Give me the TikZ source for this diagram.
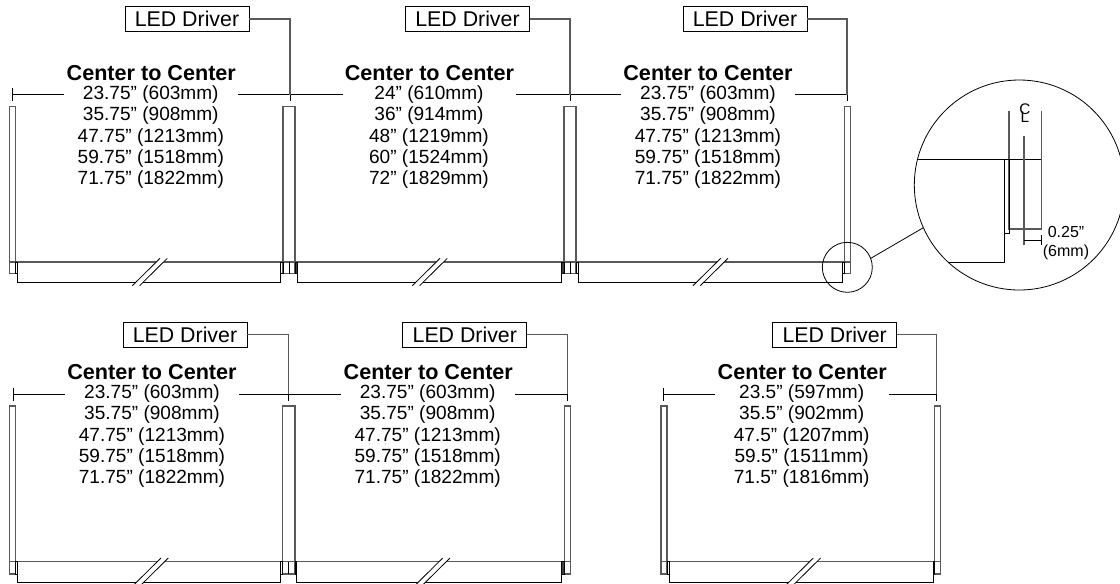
\documentclass[tikz,border=0pt]{standalone}
\usepackage{fontspec}
\setmainfont{Liberation Sans}
\newcommand{\dimsQuarter}{23.75” (603mm)\\35.75” (908mm)\\47.75” (1213mm)\\59.75” (1518mm)\\71.75” (1822mm)}
\newcommand{\dimsWhole}{24” (610mm)\\36” (914mm)\\48” (1219mm)\\60” (1524mm)\\72” (1829mm)}
\newcommand{\dimsHalf}{23.5” (597mm)\\35.5” (902mm)\\47.5” (1207mm)\\59.5” (1511mm)\\71.5” (1816mm)}
\begin{document}
\begin{tikzpicture}
[x=0.75pt,y=-0.75pt,%
  lineDecorate/.style={-,line width=0.6pt},%
  railDecorate/.style={-,line width=0.8pt,black!65},%
  driverDecorate/.style={shape=rectangle,draw,line width=0.6pt,minimum width=93pt,minimum height=18.4pt,inner sep=0pt,font=\fontsize{16}{18}\selectfont},%
  titleDecorate/.style={inner xsep=1.5pt,inner ysep=0pt,font=\fontsize{16.2}{18}\selectfont\bfseries},%
  dimDecorate/.style={align=center,inner sep=0pt,font=\fontsize{14.3}{15.9}\selectfont},%
  detailDecorate/.style={shape=circle,draw,line width=0.6pt,inner sep=0pt},%
  noteDecorate/.style={inner sep=0pt,font=\fontsize{12}{14}\selectfont}]
\path[use as bounding box,clip] (0,0) rectangle (1120,583);
%% posts
\foreach \xa/\xb/\ya/\yb in {
  9.5/15.5/106.7/273.5, 283/295/106.7/273.5, 564/576/106.7/273.5, 844.3/850.7/106.7/273.5,
  9.5/15.5/406/574, 282.7/295/406/574, 564.3/570.3/406/574, 661/667/406/574, 934.7/940.3/406/574}
{
  \draw[railDecorate] (\xa,\ya) rectangle (\xb,\yb);
}
%% bars
\foreach \xa/\xb/\y in {
  17.5/280.7/262, 297/561.7/262, 578.3/842.7/262,
  17.5/280.7/561.7, 296.7/561.7/561.7, 669.3/933/561.7}
{
  \draw[lineDecorate] (\xa,\y) -- (\xa,\y+20.5) -- (\xb,\y+20.5) -- (\xb,\y);
}
%% rail tops and end caps
\draw[railDecorate] (9.5,262) -- (850.7,262);
\draw[railDecorate] (9.5,561.7) -- (570.3,561.7);
\draw[railDecorate] (661,561.7) -- (940.3,561.7);
\foreach \xa/\xb/\ya/\yb in {
  15.5/17.5/262/273.5, 280.7/283/262/273.5, 842.7/844.3/262/273.5,
  15.5/17.5/561.7/574, 280.7/282.7/561.7/574, 667/669.3/561.7/574}
{
  \draw[lineDecorate] (\xa,\ya) rectangle (\xb,\yb);
}
\foreach \xa/\xb/\ya/\yb in {
  295/297/262/273.5, 561.7/564/262/273.5, 295/296.7/561.7/574, 561.7/564.3/561.7/574, 933/934.7/561.7/574}
{
  \draw[lineDecorate,fill=black!75] (\xa,\ya) rectangle (\xb,\yb);
}
\draw[lineDecorate] (576,262) rectangle (578.3,273.5);
\draw[lineDecorate] (289,262) -- (289,273.5) (570,262) -- (570,273.5) (288.5,561.7) -- (288.5,574);
%% breaks
\foreach \bx/\y in {
  132.3/262, 412.3/262, 693/262, 133.3/561.7, 415/561.7, 785.6/561.7}
{
  \fill[white] (\bx,\y+23.7) -- (\bx+27.7,\y-3.7) -- (\bx+35,\y-3.7) -- (\bx+7.3,\y+23.7) -- cycle;
  \draw[lineDecorate] (\bx,\y+23.7) -- (\bx+27.7,\y-3.7);
  \draw[lineDecorate] (\bx+7.3,\y+23.7) -- (\bx+35,\y-3.7);
}
%% driver boxes
\foreach \nodename/\x/\y in {
  driverA/187/19, driverB/467.5/19, driverC/745/19,
  driverD/185/334.7, driverE/464.8/334.7, driverF/834.7/334.7}
{
  \node (\nodename) at (\x,\y) [driverDecorate] {LED Driver};
}
%% titles
\foreach \nodename/\x/\y in {
  titleA/151.3/72.7, titleB/429.5/72.7, titleC/708/72.7,
  titleD/152/371.7, titleE/428.3/371.7, titleF/802.3/371.7}
{
  \node (\nodename) at (\x,\y) [titleDecorate] {Center to Center};
}
%% dimensions
\foreach \x/\y/\dimtext in {
  150.8/137.2/\dimsQuarter, 429/137.2/\dimsWhole, 708/137.2/\dimsQuarter,
  152/436.2/\dimsQuarter, 427.7/436.2/\dimsQuarter, 801.7/436.2/\dimsHalf}
{
  \node at (\x,\y) [dimDecorate] {\dimtext};
}
%% ticks
\foreach \nodename/\x/\y in {
  tickA/12.5/94.7, tickB/290/94.7, tickC/570/94.7, tickD/847/94.7,
  tickE/13/394, tickF/288.7/394, tickG/567.3/394, tickH/663.3/394, tickI/936.7/394}
{
  \coordinate (\nodename) at (\x,\y);
  \draw[lineDecorate] (\x,\y-6.5) -- (\x,\y+6.5);
}
%% dimension lines
\path
\foreach \startnode/\endnode/\side in {
  tickA/titleA/west, tickB/titleA/east, tickB/titleB/west, tickC/titleB/east, tickC/titleC/west, tickD/titleC/east,
  tickE/titleD/west, tickF/titleD/east, tickF/titleE/west, tickG/titleE/east, tickH/titleF/west, tickI/titleF/east}
{
  (\startnode) edge[lineDecorate] (\startnode -| \endnode.\side)
};
%% driver leads
\path
\foreach \startnode/\endnode in {
  driverA/tickB, driverB/tickC, driverC/tickD, driverD/tickF, driverE/tickG, driverF/tickI}
{
  (\startnode.east) edge[railDecorate,to path={-| (\tikztotarget)}] (\endnode)
};
%% detail view
\node (detailSmall) at (847.3,267.3) [detailDecorate,minimum size=37.5pt] {};
\node (detailBig) at (1019.3,185) [detailDecorate,minimum size=157.5pt] {};
\draw[lineDecorate] (detailSmall.21) -- (detailBig.204);
\draw[lineDecorate] (917.7,159.7) -- (1041.7,159.7);
\draw[railDecorate] (1009,110.7) -- (1009,229) -- (1041.7,229) -- (1041.7,110.7);
\draw[railDecorate] (1024,136) -- (1024,245);
\draw[lineDecorate] (1004.3,159.7) rectangle (1009,233.7);
\draw[lineDecorate] (1004.3,233.7) -- (1004.3,262.3) -- (948.3,262.3);
\draw[lineDecorate] (1024,240.3) -- (1041.7,240.3) (1041.7,235) -- (1041.7,245);
\node (centerLine) at (1024.2,113) [noteDecorate,font=\fontsize{11.5}{13}\selectfont] {\rlap{C}\raisebox{-6.2pt}{\hspace{1pt}L}};
\node (offsetA) at (1066,231.7) [noteDecorate] {0.25”};
\node (offsetB) at (1066,252) [noteDecorate] {(6mm)};
\end{tikzpicture}
\end{document}
